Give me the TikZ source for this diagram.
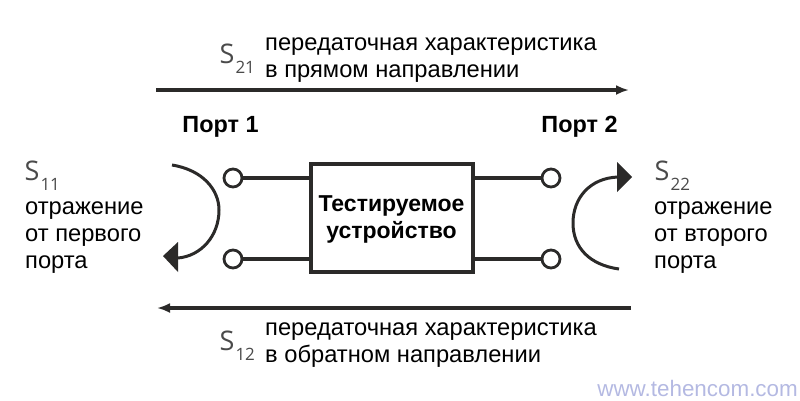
\documentclass[tikz,border=0pt]{standalone}
\usepackage{fontspec}
\setmainfont{Liberation Sans}
\newfontfamily\symfont{Open Sans}
\usetikzlibrary{arrows.meta}
\definecolor{ink}{HTML}{2B2A29}
\definecolor{sgray}{HTML}{4A4A4A}
\definecolor{wm}{HTML}{B4B9E2}
\tikzset{
  wire/.style={draw=ink,line width=3.4pt},
  port/.style={circle,draw=ink,line width=2.8pt,fill=white,minimum size=18pt,inner sep=0pt},
  dut/.style={draw=ink,line width=4pt,fill=white,minimum width=162pt,minimum height=108pt,inner sep=0pt},
  flow/.style={draw=ink,line width=3.6pt,-{Latex[length=13pt,width=10pt]}},
  refl/.style={draw=ink,line width=3pt},
  head/.style={fill=ink,draw=none},
  desc/.style={anchor=north west,inner sep=0pt,align=left,font=\fontsize{23.7}{27}\selectfont},
  bold/.style={inner sep=0pt,font=\fontsize{23.4}{26}\selectfont\bfseries},
  sym/.style={anchor=base west,inner sep=0pt,text=sgray,font=\symfont\fontsize{27}{30}\selectfont},
}
\newcommand{\sparam}[1]{S\kern1pt\raisebox{-10.5pt}{\fontsize{17}{20}\selectfont #1}}
\begin{document}
\begin{tikzpicture}[x=1pt,y=-1pt]
\useasboundingbox (0,0) rectangle (800,400);
\node[dut] (d) at (391.5,218) {};
\node[inner sep=0pt,align=center,font=\fontsize{23}{27}\selectfont\bfseries] (dt) at (391.5,219) {Тестируемое\\устройство};
\node[port] (p1) at (233,178) {};
\node[port] (p2) at (233,259) {};
\node[port] (p3) at (551,178) {};
\node[port] (p4) at (551,259) {};
\coordinate (d1) at (d.west |- p1);
\coordinate (d2) at (d.west |- p2);
\coordinate (d3) at (d.east |- p3);
\coordinate (d4) at (d.east |- p4);
\draw[wire] (p1) -- (d1);
\draw[wire] (p2) -- (d2);
\draw[wire] (d3) -- (p3);
\draw[wire] (d4) -- (p4);
% transmission arrows
\coordinate (ta) at (156,90);
\coordinate (tb) at (629,90);
\coordinate (ba) at (631,308);
\coordinate (bb) at (157,308);
\draw[flow] (ta) -- (tb);
\draw[flow] (ba) -- (bb);
% reflection arcs
\coordinate (l0) at (172,165);
\coordinate (l1) at (178,258);
\coordinate (r0) at (619,269);
\coordinate (r1) at (618,177);
\draw[refl] (l0) .. controls (203,170) and (219,190) .. (219,210) .. controls (219,236) and (201,256) .. (l1);
\fill[head] (163,256) -- (178,242) -- (178,272) -- cycle;
\draw[refl] (r0) .. controls (590,265) and (573,248) .. (573,223) .. controls (573,198) and (590,178) .. (r1);
\fill[head] (632,177) -- (617,162) -- (617,192) -- cycle;
% labels
\node[bold] (n1) at (220.5,127) {Порт 1};
\node[bold] (n2) at (579.5,127) {Порт 2};
\node[sym] (s21) at (219.5,63) {\sparam{21}};
\node[sym] (s12) at (219.5,350) {\sparam{12}};
\node[sym] (s11) at (24.5,180) {\sparam{11}};
\node[sym] (s22) at (654.5,180) {\sparam{22}};
\node[desc] (t21) at (265,38) {передаточная характеристика\\в прямом направлении};
\node[desc] (t12) at (265,323) {передаточная характеристика\\в обратном направлении};
\node[desc] (t11) at (25,202) {отражение\\от первого\\порта};
\node[desc] (t22) at (654,202) {отражение\\от второго\\порта};
\node[anchor=base east,inner sep=0pt,text=wm,font=\fontsize{22.4}{24}\selectfont] (w) at (798,396.5) {www.tehencom.com};
\end{tikzpicture}
\end{document}
